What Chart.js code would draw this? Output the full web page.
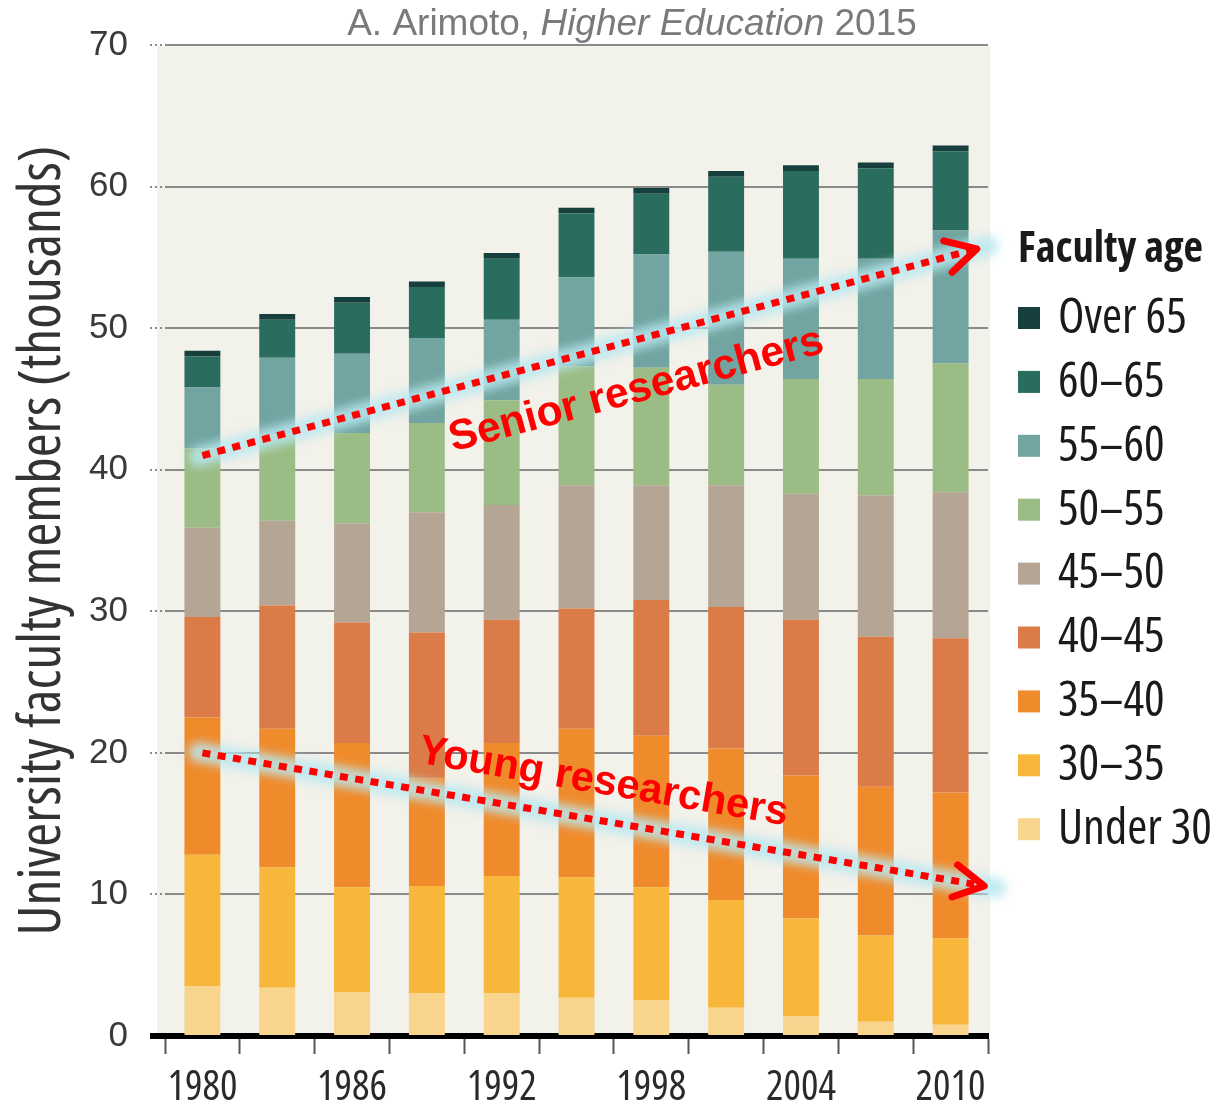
<!DOCTYPE html>
<html>
<head>
<meta charset="utf-8">
<script src="https://cdn.jsdelivr.net/npm/chart.js@4.4.1/dist/chart.umd.min.js"></script>
<style>
html,body{margin:0;padding:0;background:#ffffff;}
#wrap{width:1217px;height:1111px;position:relative;}
</style>
</head>
<body>
<div id="wrap"><canvas id="c" width="1217" height="1111"></canvas></div>
<script>
// ---------------- DATA (thousands of faculty members) ----------------
const years = ['1980','1983','1986','1989','1992','1995','1998','2001','2004','2007','2010'];
const yTicks = [0,10,20,30,40,50,60,70];
const ageLabels = ['Under 30','30–35','35–40','40–45','45–50','50–55','55–60','60–65','Over 65'];
const under30 = [3.5,3.4,3.1,3.0,3.0,2.7,2.5,2.0,1.4,1.0,0.8];
const age30_35 = [9.3,8.5,7.4,7.6,8.3,8.5,8.0,7.6,6.9,6.1,6.1];
const age35_40 = [9.7,9.8,10.2,7.6,9.4,10.5,10.7,10.7,10.1,10.5,10.3];
const age40_45 = [7.1,8.7,8.5,10.3,8.7,8.5,9.6,10.0,11.0,10.6,10.9];
const age45_50 = [6.3,6.0,7.0,8.5,8.1,8.7,8.1,8.6,8.9,10.0,10.3];
const age50_55 = [5.6,6.1,6.4,6.3,7.4,8.4,8.3,7.1,8.1,8.2,9.1];
const age55_60 = [4.3,5.4,5.6,6.0,5.7,6.3,8.0,9.4,8.5,8.5,9.4];
const age60_65 = [2.2,2.7,3.6,3.6,4.3,4.5,4.3,5.3,6.2,6.4,5.6];
const over65 = [0.4,0.4,0.4,0.4,0.4,0.4,0.4,0.4,0.4,0.4,0.4];
const ageColors = ['#f9d48c','#f8b73a','#f08b2c','#db7b47','#b5a595','#9bbd85','#72a5a1','#2a6c5d','#173f3e'];

// annotation anchors in data space: [category index, value]
const seniorArrow = [[0,41.0],[10.35,55.6]];
const youngArrow  = [[0,20.0],[10.45,10.6]];
const seniorText = {text:'Senior researchers', at:[5.8,45.6]};
const youngText  = {text:'Young researchers', at:[5.36,17.9]};
const titleParts = [['A. Arimoto, ','normal'],['Higher Education','italic'],[' 2015','normal']];
const yTitle = 'University faculty members (thousands)';
const legendTitle = 'Faculty age';

// ---------------- FONT DETECTION ----------------
const mc = document.createElement('canvas').getContext('2d');
function mw(font, s){ mc.font = font; return mc.measureText(s).width; }
const probe = 'Under 30 Faculty 1980 members';
function famOK(f){
  return mw('40px ' + f + ', monospace', probe) !== mw('40px monospace', probe) ||
         mw('40px ' + f + ', serif', probe) !== mw('40px serif', probe);
}
let COND = {w:'normal', b:'bold', fam:"'Liberation Sans', Arial, sans-serif"};
(function(){
  const cands = ["'Open Sans'", 'Roboto', "'Noto Sans'", 'Inter'];
  for (const f of cands){
    if (famOK(f) && mw('condensed 40px ' + f, probe) < 0.9 * mw('40px ' + f, probe)){
      COND = {w:'condensed', b:'bold condensed', fam: f + ', sans-serif'}; return;
    }
  }
  for (const f of ["'Liberation Sans Narrow'", "'DejaVu Sans Condensed'"]){
    if (famOK(f)){ COND = {w:'normal', b:'bold', fam: f + ', sans-serif'}; return; }
  }
})();
const ARIAL = "'Liberation Sans', Arial, sans-serif";
function fit(text, target, weight, fam){ return 40 * target / mw(weight + ' 40px ' + fam, text); }

const xLabelSize = fit('1980', 70, COND.w, COND.fam);
const yTitleSize = fit(yTitle, 790, COND.w, COND.fam);
const legSize = fit('Under 30', 154, COND.w, COND.fam);
const legTitleSize = fit(legendTitle, 185, COND.b, COND.fam);

// ---------------- DATASETS ----------------
const seriesValues = [under30, age30_35, age35_40, age40_45, age45_50, age50_55, age55_60, age60_65, over65];
const datasets = ageLabels.map((lab, i) => ({
  label: lab,
  data: seriesValues[i],
  backgroundColor: ageColors[i],
  borderWidth: 0,
  barPercentage: 0.48,
  categoryPercentage: 1.0
}));

// ---------------- PLUGINS ----------------
const bgPlugin = {
  id: 'bg',
  beforeDraw(chart){
    const {ctx, chartArea:a} = chart;
    ctx.save();
    ctx.fillStyle = '#ffffff';
    ctx.fillRect(0,0,chart.width,chart.height);
    ctx.fillStyle = '#f2f1ea';
    ctx.fillRect(a.left - 8, a.top + 1, a.right - a.left + 10, a.bottom - a.top);
    ctx.restore();
  }
};

function drawArrow(ctx, x1, y1, x2, y2){
  const ang = Math.atan2(y2 - y1, x2 - x1);
  ctx.save();
  ctx.filter = 'blur(5px)';
  ctx.strokeStyle = 'rgba(185,232,240,0.85)';
  ctx.lineWidth = 20; ctx.lineCap = 'round';
  ctx.beginPath(); ctx.moveTo(x1 - 4*Math.cos(ang), y1 - 4*Math.sin(ang));
  ctx.lineTo(x2 + 12*Math.cos(ang), y2 + 12*Math.sin(ang)); ctx.stroke();
  ctx.restore();
  ctx.save();
  ctx.strokeStyle = '#ff0000';
  ctx.lineWidth = 7;
  ctx.setLineDash([8, 7.5]);
  ctx.beginPath(); ctx.moveTo(x1, y1);
  ctx.lineTo(x2 - 6*Math.cos(ang), y2 - 6*Math.sin(ang)); ctx.stroke();
  ctx.setLineDash([]);
  ctx.lineCap = 'round'; ctx.lineJoin = 'round';
  const L = 34, a = 0.5;
  ctx.beginPath();
  ctx.moveTo(x2 - L*Math.cos(ang - a), y2 - L*Math.sin(ang - a));
  ctx.lineTo(x2, y2);
  ctx.lineTo(x2 - L*Math.cos(ang + a), y2 - L*Math.sin(ang + a));
  ctx.stroke();
  ctx.restore();
}

function drawRotText(ctx, txt, cx, cy, ang, width){
  const size = fit(txt, width, 'bold', ARIAL);
  ctx.save();
  ctx.translate(cx, cy); ctx.rotate(ang);
  ctx.font = 'bold ' + size + 'px ' + ARIAL;
  ctx.fillStyle = '#ff0000';
  ctx.textAlign = 'center'; ctx.textBaseline = 'middle';
  ctx.fillText(txt, 0, 0);
  ctx.restore();
}

const overlayPlugin = {
  id: 'overlay',
  afterDraw(chart){
    const {ctx, chartArea:a, scales:{x, y}} = chart;
    // extend black baseline left over tick area
    ctx.save();
    ctx.fillStyle = '#000';
    ctx.fillRect(a.left - 15, a.bottom - 3, 16, 6);
    ctx.restore();

    // source title
    ctx.save();
    ctx.fillStyle = '#7a7a7a';
    ctx.textBaseline = 'alphabetic';
    const ts = 37;
    let total = 0;
    titleParts.forEach(([t, st]) => { total += mw(st + ' ' + ts + 'px ' + ARIAL, t); });
    let tx = 632 - total/2;
    titleParts.forEach(([t, st]) => {
      ctx.font = st + ' ' + ts + 'px ' + ARIAL;
      ctx.fillText(t, tx, 35);
      tx += ctx.measureText(t).width;
    });
    ctx.restore();

    // arrows
    const P = p => [x.getPixelForValue(p[0]), y.getPixelForValue(p[1])];
    const s1 = P(seniorArrow[0]), s2 = P(seniorArrow[1]);
    const y1 = P(youngArrow[0]), y2 = P(youngArrow[1]);
    drawArrow(ctx, s1[0], s1[1], s2[0], s2[1]);
    drawArrow(ctx, y1[0], y1[1], y2[0], y2[1]);
    const sc = P(seniorText.at), yc = P(youngText.at);
    drawRotText(ctx, seniorText.text, sc[0], sc[1], Math.atan2(s2[1]-s1[1], s2[0]-s1[0]), 386);
    drawRotText(ctx, youngText.text, yc[0], yc[1], Math.atan2(y2[1]-y1[1], y2[0]-y1[0]), 374);

    // legend
    ctx.save();
    const lx = 1018;
    ctx.fillStyle = '#1a1a1a';
    ctx.textBaseline = 'middle';
    ctx.textAlign = 'left';
    ctx.font = COND.b + ' ' + legTitleSize + 'px ' + COND.fam;
    ctx.fillText(legendTitle, lx, 250);
    const ds = chart.data.datasets.slice().reverse();
    ctx.font = COND.w + ' ' + legSize + 'px ' + COND.fam;
    ds.forEach((d, i) => {
      const ry = 318 + i * 63.9;
      ctx.fillStyle = d.backgroundColor;
      ctx.fillRect(lx, ry - 11, 22, 22);
      ctx.fillStyle = '#1a1a1a';
      ctx.fillText(d.label, 1058, ry + 1);
    });
    ctx.restore();
  }
};

// ---------------- CHART ----------------
const gridGray = '#8a8a8a';
new Chart(document.getElementById('c'), {
  type: 'bar',
  data: { labels: years, datasets },
  options: {
    responsive: false,
    animation: false,
    layout: { padding: { top: 45, right: 229, bottom: 0, left: 0 } },
    plugins: { legend: { display: false }, tooltip: { enabled: false }, title: { display: false } },
    scales: {
      x: {
        stacked: true,
        offset: true,
        grid: { display: true, drawOnChartArea: false, drawTicks: true, tickLength: 18, tickColor: '#555', tickWidth: 2, offset: true },
        border: { display: true, color: '#000', width: 6 },
        ticks: {
          autoSkip: false, maxRotation: 0, minRotation: 0, padding: 10,
          color: '#2a2a2a',
          font: { family: COND.fam, size: xLabelSize, weight: COND.w },
          callback: (v, i) => (i % 2 === 0 ? years[i] : '')
        },
        afterFit: s => { s.height = 75; }
      },
      y: {
        stacked: true,
        min: yTicks[0], max: yTicks[yTicks.length - 1],
        afterBuildTicks: s => { s.ticks = yTicks.map(v => ({ value: v })); },
        grid: {
          color: c => (c.tick && c.tick.value === 0 ? 'rgba(0,0,0,0)' : gridGray),
          lineWidth: 2,
          borderDash: [2, 3],
          drawTicks: true, tickLength: 15,
          tickColor: c => (c.tick && c.tick.value === 0 ? 'rgba(0,0,0,0)' : gridGray),
          tickWidth: 2, tickBorderDash: [2, 3]
        },
        border: { display: false },
        ticks: { color: '#3a3a3a', padding: 22, font: { family: ARIAL, size: 35 } },
        title: {
          display: true, text: yTitle, color: '#333',
          font: { family: COND.fam, size: yTitleSize, weight: COND.w },
          padding: { top: 9, bottom: 0 }
        },
        afterFit: s => { s.width = 165; }
      }
    }
  },
  plugins: [bgPlugin, overlayPlugin]
});
</script>
</body>
</html>
